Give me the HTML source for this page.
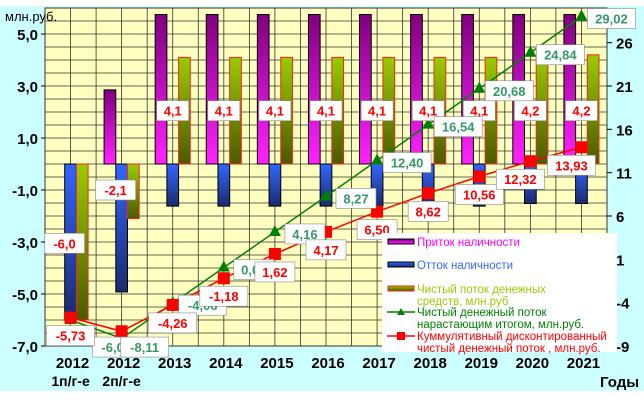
<!DOCTYPE html>
<html><head><meta charset="utf-8"><style>
body{margin:0;background:#ccffff;}
svg{display:block;font-family:"Liberation Sans",sans-serif;}
</style></head><body>
<svg id="c" width="644" height="402">
<rect x="0" y="0" width="644" height="402" fill="#ccffff"/>
<rect x="0" y="391" width="644" height="11" fill="#fff"/>
<rect x="0" y="0" width="644" height="6" fill="#fff"/>
<g id="g"></g>
</svg>
<script>
const categories=["2012|1п/г-е","2012|2п/г-е","2013","2014","2015","2016","2017","2018","2019","2020","2021"];
const inflow=[0,2.85,5.75,5.75,5.75,5.75,5.75,5.75,5.75,5.75,5.75];
const outflow=[-6.0,-4.92,-1.62,-1.62,-1.62,-1.62,-1.62,-1.62,-1.62,-1.52,-1.52];
const netFlow=[-6.0,-2.1,4.1,4.1,4.1,4.1,4.1,4.1,4.1,4.2,4.2];
const netLabels=["-6,0","-2,1","4,1","4,1","4,1","4,1","4,1","4,1","4,1","4,2","4,2"];
const cumulative=[-6.0,-8.11,-4.06,0.06,4.16,8.27,12.40,16.54,20.68,24.84,29.02];
const cumLabels=["-6,0","-8,11","-4,06","0,06","4,16","8,27","12,40","16,54","20,68","24,84","29,02"];
const discounted=[-5.73,-7.3,-4.26,-1.18,1.62,4.17,6.50,8.62,10.56,12.32,13.93];
const discLabels=["-5,73","-6,0","-4,26","-1,18","1,62","4,17","6,50","8,62","10,56","12,32","13,93"];
const leftTicks=[5,3,1,-1,-3,-5,-7];
const rightTicks=[26,21,16,11,6,1,-4,-9];

const NS="http://www.w3.org/2000/svg";
const g=document.getElementById('g');
const X0=45,X1=607,Y0=8,Y1=346;
const step=(X1-X0)/categories.length;
const cx=i=>X0+step*(i+0.5);
const yL=v=>Y1-(v+7)/13*(Y1-Y0);
const yR=v=>Y1-(v+9)/39*(Y1-Y0);
function el(t,a,p){const e=document.createElementNS(NS,t);for(const k in a)e.setAttribute(k,a[k]);(p||g).appendChild(e);return e;}
function txt(x,y,s,a,p){const e=el('text',Object.assign({x:x,y:y},a),p);e.textContent=s;return e;}

const defs=el('defs',{});
function grad(id,c1,c2){const lg=el('linearGradient',{id:id,x1:0,y1:0,x2:0,y2:1},defs);el('stop',{offset:0,'stop-color':c1},lg);el('stop',{offset:1,'stop-color':c2},lg);}
grad('gp','#800080','#ff22ff');grad('gb','#3366ff','#1a2a70');grad('gg','#99cc00','#4a5a00');

const plot=el('rect',{x:X0,y:Y0,width:X1-X0,height:Y1-Y0,fill:'#ffffc0'});


for(let v=-7;v<=6.01;v+=0.5){const l=el('line',{x1:X0,x2:X1,y1:yL(v),y2:yL(v),stroke:'#333','stroke-width':0.8});

}
for(let i=0;i<=categories.length*2;i++){const x=X0+step*i/2;const l=el('line',{x1:x,x2:x,y1:Y0,y2:Y1,stroke:'#333','stroke-width':0.8});

}
el('rect',{x:X0,y:Y0,width:X1-X0,height:Y1-Y0,fill:'none',stroke:'#333'});

const bw=11.7;
categories.forEach((c,i)=>{
  const x=cx(i)-bw*1.5;
  const z=yL(0);
  if(inflow[i]>0){const b=el('rect',{x:x,y:yL(inflow[i]),width:bw,height:z-yL(inflow[i]),fill:'url(#gp)',stroke:'#000','stroke-width':1});
  
  }
  const b2=el('rect',{x:x+bw,y:z,width:bw,height:yL(outflow[i])-z,fill:'url(#gb)',stroke:'#000','stroke-width':1});
  
  
  const n=netFlow[i];const y1=Math.min(z,yL(n)),h=Math.abs(yL(n)-z);
  const b3=el('rect',{x:x+2*bw,y:y1,width:bw,height:h,fill:'url(#gg)',stroke:'#ff2020','stroke-width':1});
  
  
});
function series(vals,color,marker,name){
  const pts=vals.map((v,i)=>cx(i)+','+yR(v)).join(' ');
  const pl=el('polyline',{points:pts,fill:'none',stroke:color,'stroke-width':1.5});
  
  
  vals.forEach((v,i)=>{const x=cx(i),y=yR(v);let m;
    if(marker==='tri')m=el('polygon',{points:`${x},${y-7} ${x-6},${y+4} ${x+6},${y+4}`,fill:color});
    else m=el('rect',{x:x-6,y:y-6,width:12,height:12,fill:color});
    
    });
}
series(cumulative,'#008000','tri','cumulative-flow');
series(discounted,'#ff0000','sq','discounted-flow');

function label(x,y,s,color,name){
  const w=s.length*8+8;
  el('rect',{x:x-w/2,y:y-10,width:w,height:20,fill:'#fff',stroke:'#888','stroke-width':0.6});
  const t=txt(x,y+5,s,{'text-anchor':'middle','font-size':13,'font-weight':'bold',fill:color});
  
  
}
netFlow.forEach((v,i)=>{const y=i<2?(i===0?yL(-3.05):yL(-1.0)):yL(2.05);label(cx(i)+(i<2?-6:0),y,netLabels[i],'#ff0000','net-flow-label');});
cumulative.forEach((v,i)=>{if(i<2)return;label(cx(i)+30,yR(v)+2,cumLabels[i],'#339966','cumulative-label');});
label(cx(1)-9,yR(-8.2)+8,cumLabels[0],'#339966','cumulative-label');
label(cx(1)+23,yR(-8.2)+8,cumLabels[1],'#339966','cumulative-label');
discounted.forEach((v,i)=>{if(i===1)return;const dx=i>8?-10:0;label(cx(i)+dx,yR(v)+18,discLabels[i],'#ff0000','discounted-label');});

leftTicks.forEach(v=>{const t=txt(38,yL(v)+6,v.toFixed(1).replace('.',','),{'text-anchor':'end','font-size':15,'font-weight':'bold',fill:'#000'});


el('line',{x1:X0-4,x2:X0,y1:yL(v),y2:yL(v),stroke:'#000'});});
rightTicks.forEach(v=>{const t=txt(616,yR(v)+6,String(v),{'font-size':15,'font-weight':'bold',fill:'#000'});


el('line',{x1:X1,x2:X1+5,y1:yR(v),y2:yR(v),stroke:'#000'});});
categories.forEach((c,i)=>{const p=c.split('|');const t=txt(cx(i)+2,368,p[0],{'text-anchor':'middle','font-size':15,'font-weight':'bold',fill:'#000'});


if(p[1]){const t2=txt(cx(i),386,p[1],{'text-anchor':'middle','font-size':14,'font-weight':'bold',fill:'#000'});

}});
const ut=txt(5,21,'млн.руб.',{'font-size':13,fill:'#000'});


const yt=txt(600,387,'Годы',{'font-size':15,'font-weight':'bold',fill:'#000'});



const lg=el('g',{});


el('rect',{x:382,y:233,width:235,height:119,fill:'#fff'},lg);
const items=[
 {y:242,sw:'url(#gp)',st:'#000',c:'#ff00ff',t:['Приток наличности']},
 {y:265,sw:'url(#gb)',st:'#000',c:'#3366ff',t:['Отток наличности']},
 {y:289,sw:'url(#gg)',st:'#ff2020',c:'#99cc00',t:['Чистый поток денежных','средств, млн.руб']},
 {y:312,line:'#008000',c:'#008000',t:['Чистый денежный поток','нарастающим итогом, млн.руб.']},
 {y:336,line:'#ff0000',c:'#ff0000',t:['Куммулятивный дисконтированный','чистый денежный поток , млн.руб.']}];
items.forEach((it,k)=>{
  if(it.sw)el('rect',{x:388,y:it.y-3,width:26,height:5,fill:it.sw,stroke:it.st},lg);
  else{el('line',{x1:387,x2:415,y1:it.y,y2:it.y,stroke:it.line,'stroke-width':1.5},lg);
    if(k===3)el('polygon',{points:`401,${it.y-4} 397,${it.y+3} 405,${it.y+3}`,fill:it.line},lg);
    else el('rect',{x:397,y:it.y-4,width:8,height:8,fill:it.line},lg);}
  it.t.forEach((s,j)=>{const t=txt(417,it.y+4+j*12,s,{'font-size':11.5,fill:it.c},lg);
  
  });
});
</script>
</body></html>
